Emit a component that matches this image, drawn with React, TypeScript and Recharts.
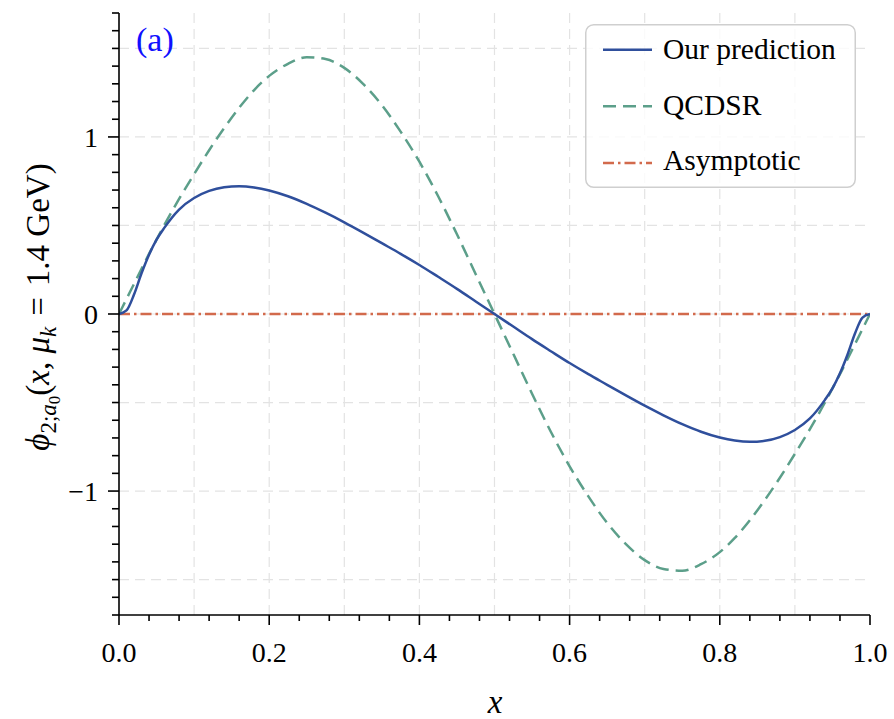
import React from "react";
import { LineChart, Line, XAxis, YAxis, CartesianGrid, Legend } from "recharts";

// ---- data ----
const xs = [0, 0.01, 0.02, 0.03, 0.04, 0.05, 0.06, 0.08, 0.1, 0.12, 0.14, 0.16, 0.18, 0.2, 0.225, 0.25, 0.275, 0.3, 0.325, 0.35, 0.375, 0.4, 0.425, 0.45, 0.475, 0.5, 0.525, 0.55, 0.575, 0.6, 0.625, 0.65, 0.675, 0.7, 0.725, 0.75, 0.775, 0.8, 0.82, 0.84, 0.86, 0.88, 0.9, 0.92, 0.94, 0.95, 0.96, 0.97, 0.98, 0.99, 1.0];

const ourPrediction = [0, 0.02, 0.11, 0.23, 0.335, 0.42, 0.485, 0.59, 0.655, 0.695, 0.716, 0.722, 0.715, 0.698, 0.665, 0.622, 0.572, 0.518, 0.46, 0.4, 0.34, 0.277, 0.21, 0.142, 0.071, 0, -0.071, -0.142, -0.21, -0.277, -0.34, -0.4, -0.46, -0.518, -0.572, -0.622, -0.665, -0.698, -0.715, -0.722, -0.716, -0.695, -0.655, -0.59, -0.485, -0.42, -0.335, -0.23, -0.11, -0.02, 0];

const qcdsr = [0, 0.085, 0.17, 0.255, 0.34, 0.42, 0.5, 0.65, 0.79, 0.925, 1.05, 1.165, 1.265, 1.345, 1.413, 1.45, 1.44, 1.39, 1.3, 1.18, 1.03, 0.86, 0.665, 0.45, 0.225, 0, -0.225, -0.45, -0.665, -0.86, -1.03, -1.18, -1.3, -1.39, -1.44, -1.45, -1.413, -1.345, -1.265, -1.165, -1.05, -0.925, -0.79, -0.65, -0.5, -0.42, -0.34, -0.255, -0.17, -0.085, 0];

const asymptotic = xs.map(() => 0);

const xMajorTicks = [0, 0.2, 0.4, 0.6, 0.8, 1.0];
const xTickLabels = ["0.0", "0.2", "0.4", "0.6", "0.8", "1.0"];
const yMajorTicks = [-1, 0, 1];
const yTickLabels = ["\u22121", "0", "1"];
const xMinorTicks = Array.from({ length: 26 }, (_, i) => Math.round(i * 4) / 100);
const yMinorTicks = Array.from({ length: 35 }, (_, i) => (i - 17) / 10);
const xGrid = [0.1, 0.2, 0.3, 0.4, 0.5, 0.6, 0.7, 0.8, 0.9];
const yGrid = [-1.5, -1, -0.5, 0, 0.5, 1, 1.5];

const seriesNames = ["Our prediction", "QCDSR", "Asymptotic"];
const panelLabel = "(a)";

const data = xs.map((x, i) => ({
  x,
  our: ourPrediction[i],
  qcdsr: qcdsr[i],
  asym: asymptotic[i],
}));

// ---- styles ----
const FONT = "'Liberation Serif', 'Times New Roman', serif";
const BLUE = "#2f4f9c";
const GREEN = "#5c9f8a";
const RED = "#d26a4c";
const GREEN_DASH = "13 7";
const RED_DASH = "11 4 2.5 4";

const near = (a: number, b: number) => Math.abs(a - b) < 1e-6;

const BottomTick = (props: any) => {
  const { x, y, payload } = props;
  const v = payload.value as number;
  const mi = xMajorTicks.findIndex((m) => near(m, v));
  const major = mi >= 0;
  return (
    <g>
      <line x1={x} x2={x} y1={y} y2={y + (major ? 10 : 6)} stroke="#000" strokeWidth={1.6} />
      {major && (
        <text x={x} y={y + 47} textAnchor="middle" fontFamily={FONT} fontSize={28} fill="#000">
          {xTickLabels[mi]}
        </text>
      )}
    </g>
  );
};

const TopTick = (props: any) => {
  const { x, y, payload } = props;
  const v = payload.value as number;
  const major = xMajorTicks.some((m) => near(m, v));
  return <line x1={x} x2={x} y1={y} y2={y + (major ? 10 : 6)} stroke="#000" strokeWidth={1.6} />;
};

const LeftTick = (props: any) => {
  const { x, y, payload } = props;
  const v = payload.value as number;
  const mi = yMajorTicks.findIndex((m) => near(m, v));
  const major = mi >= 0;
  return (
    <g>
      <line x1={x - (major ? 11 : 7)} x2={x} y1={y} y2={y} stroke="#000" strokeWidth={1.6} />
      {major && (
        <text x={x - 21} y={y + 10} textAnchor="end" fontFamily={FONT} fontSize={28} fill="#000">
          {yTickLabels[mi]}
        </text>
      )}
    </g>
  );
};

const RightTick = (props: any) => {
  const { x, y, payload } = props;
  const v = payload.value as number;
  const major = yMajorTicks.some((m) => near(m, v));
  return <line x1={x - (major ? 11 : 7)} x2={x} y1={y} y2={y} stroke="#000" strokeWidth={1.6} />;
};

const YLabel = () => (
  <g>
    <text
      x={49}
      y={307}
      transform="rotate(-90, 49, 307)"
      textAnchor="middle"
      fontFamily={FONT}
      fontSize={33}
      fill="#000"
    >
      <tspan fontStyle="italic">ϕ</tspan>
      <tspan fontSize={23} dy={7}>2;</tspan>
      <tspan fontSize={23} fontStyle="italic">a</tspan>
      <tspan fontSize={17} dy={4}>0</tspan>
      <tspan dy={-11}>(</tspan>
      <tspan fontStyle="italic">x</tspan>
      <tspan>, </tspan>
      <tspan fontStyle="italic">μ</tspan>
      <tspan fontSize={23} fontStyle="italic" dy={7}>k</tspan>
      <tspan dy={-7}>{"\u2004=\u20041.4 GeV)"}</tspan>
    </text>
    <text x={136} y={51} fontFamily={FONT} fontSize={34} fill="#1010ff">
      {panelLabel}
    </text>
  </g>
);

const XLabel = () => (
  <text x={495} y={713} textAnchor="middle" fontFamily={FONT} fontSize={33} fontStyle="italic" fill="#000">
    x
  </text>
);

const LegendBox = () => {
  const rows = [
    { name: seriesNames[0], color: BLUE, dash: undefined as string | undefined, ly: 25.7, ty: 35 },
    { name: seriesNames[1], color: GREEN, dash: GREEN_DASH, ly: 82.3, ty: 91 },
    { name: seriesNames[2], color: RED, dash: RED_DASH, ly: 139, ty: 146 },
  ];
  return (
    <svg width={272} height={166} style={{ display: "block" }}>
      <rect x={0.75} y={0.75} width={269.5} height={162.5} rx={8} ry={8} fill="rgba(255,255,255,0.8)" stroke="#cfcfcf" strokeWidth={1.5} />
      {rows.map((r) => (
        <g key={r.name}>
          <line x1={18} x2={67} y1={r.ly} y2={r.ly} stroke={r.color} strokeWidth={2.5} strokeDasharray={r.dash} />
          <text x={78} y={r.ty} fontFamily={FONT} fontSize={29.5} fill="#000">
            {r.name}
          </text>
        </g>
      ))}
    </svg>
  );
};

export default function App() {
  return (
    <div style={{ position: "absolute", left: 0, top: 0, width: 894, height: 719, background: "#fff" }}>
      <LineChart width={894} height={719} data={data} margin={{ top: 13, right: 24, left: 0, bottom: 0 }}>
        <CartesianGrid
          stroke="#e3e3e3"
          strokeWidth={1.2}
          strokeDasharray="10 6"
          verticalValues={xGrid}
          horizontalValues={yGrid}
        />
        <XAxis
          dataKey="x"
          type="number"
          domain={[0, 1]}
          ticks={xMinorTicks}
          interval={0}
          height={104}
          tickSize={0}
          tickMargin={0}
          tickLine={false}
          tick={<BottomTick />}
          axisLine={{ stroke: "#000", strokeWidth: 1.6 }}
          label={<XLabel />}
          allowDataOverflow
        />
        <XAxis
          xAxisId="top"
          orientation="top"
          dataKey="x"
          type="number"
          domain={[0, 1]}
          ticks={xMinorTicks}
          interval={0}
          height={0}
          tickSize={0}
          tickMargin={0}
          tickLine={false}
          tick={<TopTick />}
          axisLine={{ stroke: "#000", strokeWidth: 1.6 }}
          allowDataOverflow
        />
        <YAxis
          type="number"
          domain={[-1.7, 1.7]}
          ticks={yMinorTicks}
          interval={0}
          width={119}
          tickSize={0}
          tickMargin={0}
          tickLine={false}
          tick={<LeftTick />}
          axisLine={{ stroke: "#000", strokeWidth: 1.6 }}
          label={<YLabel />}
          allowDataOverflow
        />
        <YAxis
          yAxisId="right"
          orientation="right"
          type="number"
          domain={[-1.7, 1.7]}
          ticks={yMinorTicks}
          interval={0}
          width={0}
          tickSize={0}
          tickMargin={0}
          tickLine={false}
          tick={<RightTick />}
          axisLine={{ stroke: "#000", strokeWidth: 1.6 }}
          allowDataOverflow
        />
        <Line
          dataKey="asym"
          name={seriesNames[2]}
          type="linear"
          stroke={RED}
          strokeWidth={2.4}
          strokeDasharray={RED_DASH}
          dot={false}
          activeDot={false}
          isAnimationActive={false}
        />
        <Line
          dataKey="qcdsr"
          name={seriesNames[1]}
          type="monotone"
          stroke={GREEN}
          strokeWidth={2.5}
          strokeDasharray={GREEN_DASH}
          dot={false}
          activeDot={false}
          isAnimationActive={false}
        />
        <Line
          dataKey="our"
          name={seriesNames[0]}
          type="monotone"
          stroke={BLUE}
          strokeWidth={2.5}
          dot={false}
          activeDot={false}
          isAnimationActive={false}
        />
        <Legend
          layout="vertical"
          align="center"
          verticalAlign="middle"
          wrapperStyle={{ position: "absolute", left: 585, top: 24, width: 272, height: 166 }}
          content={() => <LegendBox />}
        />
      </LineChart>
    </div>
  );
}
